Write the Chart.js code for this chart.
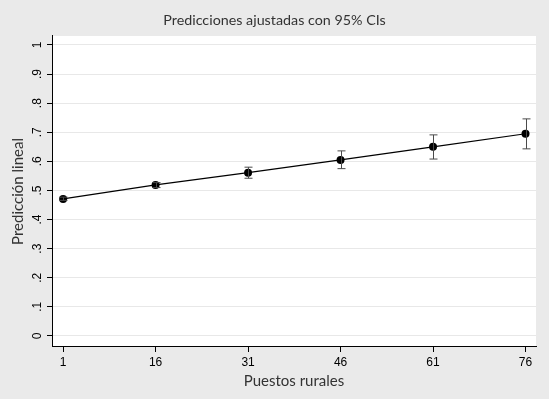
<!DOCTYPE html>
<html><head><meta charset="utf-8">
<script src="https://cdn.jsdelivr.net/npm/chart.js@4"></script>
<style>html,body{margin:0;padding:0;background:#eaeaea;}#wrap{width:549px;height:399px;}</style>
</head><body><div id="wrap"><canvas id="c" width="549" height="399"></canvas></div>
<script>
const categories = [1, 16, 31, 46, 61, 76];
const predicted = [0.471, 0.519, 0.561, 0.605, 0.650, 0.695];
const lowerCI = [0.466, 0.510, 0.542, 0.575, 0.608, 0.643];
const upperCI = [0.477, 0.527, 0.580, 0.636, 0.691, 0.746];
const yTicks = [0, 0.1, 0.2, 0.3, 0.4, 0.5, 0.6, 0.7, 0.8, 0.9, 1];
const titleText = 'Predicciones ajustadas con 95% CIs';
const xTitle = 'Puestos rurales';
const yTitle = 'Predicción lineal';

const bgPlugin = {
  id: 'bg',
  beforeDraw(chart) {
    const {ctx, chartArea: a} = chart;
    ctx.save();
    ctx.fillStyle = '#eaeaea';
    ctx.fillRect(0, 0, chart.width, chart.height);
    ctx.fillStyle = '#ffffff';
    ctx.fillRect(a.left, a.top, a.right - a.left, a.bottom - a.top);
    ctx.restore();
  }
};
const errPlugin = {
  id: 'err',
  afterDatasetsDraw(chart) {
    const {ctx, scales: {x, y}} = chart;
    ctx.save();
    ctx.strokeStyle = '#4a4a4a';
    ctx.lineWidth = 1;
    categories.forEach((c, i) => {
      const px = Math.round(x.getPixelForValue(c)) + 0.5;
      const lo = y.getPixelForValue(lowerCI[i]);
      const hi = y.getPixelForValue(upperCI[i]);
      ctx.beginPath();
      ctx.moveTo(px, lo); ctx.lineTo(px, hi);
      ctx.moveTo(px - 4, lo); ctx.lineTo(px + 4, lo);
      ctx.moveTo(px - 4, hi); ctx.lineTo(px + 4, hi);
      ctx.stroke();
    });
    ctx.restore();
  }
};

new Chart(document.getElementById('c'), {
  type: 'line',
  data: {
    datasets: [{
      data: categories.map((c, i) => ({x: c, y: predicted[i]})),
      borderColor: '#000000',
      backgroundColor: '#000000',
      borderWidth: 1.2,
      pointRadius: 4,
      pointBackgroundColor: '#000000',
      pointBorderWidth: 0,
      tension: 0
    }]
  },
  options: {
    responsive: false,
    animation: false,
    layout: {padding: {left: 0, right: 0, top: 0, bottom: 0}},
    plugins: {
      legend: {display: false},
      tooltip: {enabled: false},
      title: {
        display: true, text: titleText, color: '#333333',
        font: {family: 'Lato', size: 14.3, weight: 'normal'},
        padding: {top: 12, bottom: 6.8}
      }
    },
    scales: {
      x: {
        type: 'linear', min: -0.8, max: 77.7,
        afterBuildTicks: s => { s.ticks = categories.map(v => ({value: v})); },
        afterFit: s => { s.height = 52; },
        grid: {drawOnChartArea: false, drawTicks: true, tickLength: 5, tickColor: '#000000'},
        border: {display: true, color: '#000000', width: 1},
        ticks: {color: '#000000', font: {family: 'Liberation Sans', size: 12}, padding: 3, maxRotation: 0, minRotation: 0},
        title: {display: true, text: xTitle, color: '#333333', font: {family: 'Lato', size: 15}, padding: {top: 0, bottom: 9}}
      },
      y: {
        type: 'linear', min: -0.038, max: 1.031,
        afterBuildTicks: s => { s.ticks = yTicks.map(v => ({value: v})); },
        afterFit: s => { s.width = 52; },
        grid: {color: '#e8e8e8', lineWidth: 1, drawTicks: true, tickLength: 5, tickColor: '#000000'},
        border: {display: true, color: '#000000', width: 1},
        ticks: {
          color: '#000000', font: {family: 'Liberation Sans', size: 12}, padding: 4,
          minRotation: 90, maxRotation: 90, crossAlign: 'center',
          callback: v => v === 0 ? '0' : v === 1 ? '1' : ('' + (+v.toFixed(1))).replace(/^0/, '')
        },
        title: {display: true, text: yTitle, color: '#333333', font: {family: 'Lato', size: 15}, padding: {top: 9, bottom: 0}}
      },
      yRight: {
        type: 'linear', position: 'right', display: true,
        afterFit: s => { s.width = 13; },
        grid: {display: false, drawTicks: false},
        border: {display: false},
        ticks: {display: false},
        title: {display: false}
      }
    }
  },
  plugins: [bgPlugin, errPlugin]
});
</script></body></html>
